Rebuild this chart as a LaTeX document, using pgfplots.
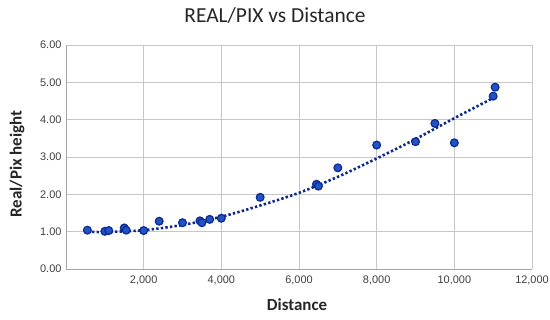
\documentclass[border=0pt]{standalone}
\usepackage{pgfplots}
\pgfplotsset{compat=1.18}
\usepackage{fontspec}
\setmainfont{Carlito}
\newfontfamily\arialf{Liberation Sans}
\definecolor{mfill}{HTML}{2352C8}
\definecolor{medge}{HTML}{0B2A8F}
\definecolor{trend}{HTML}{0D2A8A}
\begin{document}
\begin{tikzpicture}[x=1bp,y=1bp]
\useasboundingbox (0,0) rectangle (550,319);
\begin{axis}[at={(66bp,50bp)}, anchor=south west, scale only axis,
  width=466bp, height=224bp,
  xmin=0, xmax=12000, ymin=0, ymax=6,
  xtick={2000,4000,6000,8000,10000,12000},
  ytick={0,1,2,3,4,5,6},
  grid=major, grid style={draw=black!22, line width=0.9pt},
  axis lines*=left, axis line style={draw=black!35, line width=0.9pt},
  tick style={draw=none},
  scaled x ticks=false,
  /pgf/number format/assume math mode=true,
  ticklabel style={font=\arialf\fontsize{11}{12}\selectfont, text=black!75},
  x tick label style={yshift=-3bp, /pgf/number format/1000 sep={,}},
  y tick label style={xshift=-1bp, /pgf/number format/fixed, /pgf/number format/fixed zerofill, /pgf/number format/precision=2},
  clip=false,
]
\addplot[trend, line width=2.6bp, dash pattern=on 2.4bp off 2.2bp, smooth] coordinates {
(550,1.00) (1000,0.99) (2000,1.04) (3000,1.18) (4000,1.40) (5000,1.70) (6000,2.04) (7000,2.47) (8000,2.96) (9000,3.48) (10000,4.04) (11000,4.58)};
\addplot[only marks, mark=*, mark size=3.9bp, mark options={fill=mfill, draw=medge, line width=1.2bp}] coordinates {
(550,1.04) (1000,1.01) (1100,1.03) (1500,1.10) (1550,1.04) (2000,1.03) (2400,1.28) (3000,1.24) (3450,1.29) (3500,1.24) (3700,1.33) (4000,1.36) (5000,1.92) (6450,2.27) (6500,2.22) (7000,2.71) (8000,3.32) (9000,3.41) (9500,3.90) (10000,3.38) (11000,4.63) (11050,4.87)};
\end{axis}
\node[font=\fontsize{21.5}{24}\selectfont, text=black!85] at (275,303) {REAL/PIX vs Distance};
\node[font=\bfseries\fontsize{17}{19}\selectfont, text=black!85] at (297,14) {Distance};
\node[rotate=90, font=\bfseries\fontsize{17}{19}\selectfont, text=black!85] at (17,155) {Real/Pix height};
\end{tikzpicture}
\end{document}
